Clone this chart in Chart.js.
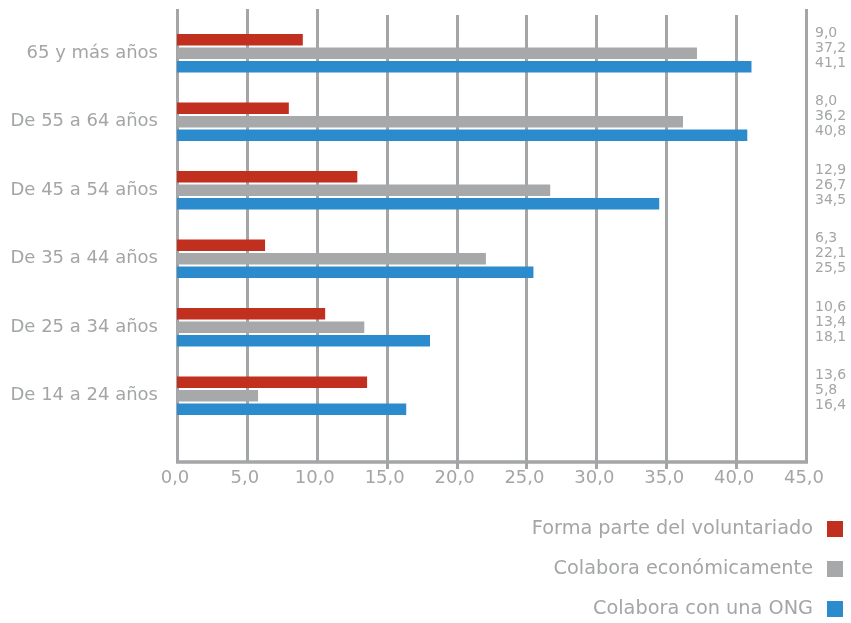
<!DOCTYPE html>
<html lang="es">
    <head>
        <meta charset="UTF-8">
        <title>Voluntariado por edad</title>
        <style>
            body { margin: 0; background: #ffffff; }
            #grafico { width: 851px; height: 623px; }
        </style>
    </head>

    <body>
        <div id="grafico">
            <canvas id="myChartCanvas" width="851" height="623"></canvas>
        </div>

        <script src="https://cdn.jsdelivr.net/npm/chart.js"></script>

        <script>
            // datos
            const categorias = ['65 y más años', 'De 55 a 64 años', 'De 45 a 54 años', 'De 35 a 44 años', 'De 25 a 34 años', 'De 14 a 24 años'];
            const voluntariado = [9.0, 8.0, 12.9, 6.3, 10.6, 13.6];
            const economica = [37.2, 36.2, 26.7, 22.1, 13.4, 5.8];
            const ong = [41.1, 40.8, 34.5, 25.5, 18.1, 16.4];
            const etiquetasSeries = ['Forma parte del voluntariado', 'Colabora económicamente', 'Colabora con una ONG'];
            const ticksX = [0, 5, 10, 15, 20, 25, 30, 35, 40, 45];

            const coloresSeries = ['#c12f1f', '#a6a8a9', '#2b8bcd'];
            const gris = '#a3a5a6';
            const fuente = 'DejaVu Sans';

            function formatear(v) {
                return v.toFixed(1).replace('.', ',');
            }

            // rejilla, eje inferior, marcas y etiquetas del eje x, fuera del area del grafico
            const rejillaPlugin = {
                id: 'rejilla',
                beforeDatasetsDraw(chart) {
                    const ctx = chart.ctx;
                    const x = chart.scales.x;
                    ctx.save();
                    ctx.strokeStyle = gris;
                    ctx.lineWidth = 3;
                    ticksX.forEach(v => {
                        const px = Math.round(x.getPixelForValue(v)) + 0.5;
                        const arriba = (v <= 10 || v === 45) ? 9 : 15;
                        const abajo = (v >= 15 && v <= 40) ? 469 : 463;
                        ctx.beginPath();
                        ctx.moveTo(px, arriba);
                        ctx.lineTo(px, abajo);
                        ctx.stroke();
                    });
                    ctx.lineWidth = 3.5;
                    ctx.beginPath();
                    ctx.moveTo(x.getPixelForValue(0) - 1, 462);
                    ctx.lineTo(x.getPixelForValue(45) + 2, 462);
                    ctx.stroke();

                    ctx.fillStyle = gris;
                    ctx.font = '18px "' + fuente + '"';
                    ctx.textAlign = 'center';
                    ctx.textBaseline = 'middle';
                    ticksX.forEach(v => {
                        ctx.fillText(formatear(v), x.getPixelForValue(v) - 2, 478);
                    });
                    ctx.restore();
                },
                afterDatasetsDraw(chart) {
                    const ctx = chart.ctx;
                    const y = chart.scales.y;
                    ctx.save();
                    ctx.fillStyle = gris;
                    ctx.textAlign = 'left';
                    ctx.textBaseline = 'middle';
                    ctx.font = '14px "' + fuente + '"';
                    categorias.forEach((c, i) => {
                        const centro = y.getPixelForValue(i);
                        chart.data.datasets.forEach((ds, d) => {
                            ctx.fillText(formatear(ds.data[i]), 815, centro - 5 + (d - 1) * 15);
                        });
                    });

                    // leyenda
                    ctx.font = '19.3px "' + fuente + '"';
                    ctx.textAlign = 'right';
                    chart.data.datasets.forEach((ds, d) => {
                        const py = 529 + d * 40;
                        ctx.fillStyle = gris;
                        ctx.fillText(ds.label, 813, py);
                        ctx.fillStyle = ds.backgroundColor;
                        ctx.fillRect(827, py - 8, 16, 16);
                    });
                    ctx.restore();
                }
            };

            const ctx = document.getElementById('myChartCanvas').getContext('2d');

            new Chart(ctx, {
                type: 'bar',
                data: {
                    labels: categorias,
                    datasets: [
                        { label: etiquetasSeries[0], data: voluntariado, backgroundColor: coloresSeries[0] },
                        { label: etiquetasSeries[1], data: economica, backgroundColor: coloresSeries[1] },
                        { label: etiquetasSeries[2], data: ong, backgroundColor: coloresSeries[2] }
                    ]
                },
                options: {
                    indexAxis: 'y',
                    responsive: false,
                    animation: false,
                    categoryPercentage: 0.595,
                    barPercentage: 0.845,
                    layout: {
                        padding: { top: 19, right: 45, bottom: 0, left: 0 }
                    },
                    plugins: {
                        legend: { display: false },
                        tooltip: { enabled: false }
                    },
                    scales: {
                        x: {
                            min: 0,
                            max: 45,
                            grid: { display: false, drawTicks: false },
                            border: { display: false },
                            ticks: { display: false, stepSize: 5 },
                            afterFit: scale => {
                                scale.height = 193;
                                scale.paddingLeft = 0;
                                scale.paddingRight = 0;
                            }
                        },
                        y: {
                            grid: { display: false, drawTicks: false },
                            border: { display: false },
                            ticks: {
                                padding: 19,
                                color: gris,
                                font: { family: fuente, size: 18 }
                            },
                            afterFit: scale => {
                                scale.width = 177;
                                scale.paddingTop = 0;
                                scale.paddingBottom = 0;
                            }
                        }
                    }
                },
                plugins: [rejillaPlugin]
            });
        </script>
    </body>
</html>
